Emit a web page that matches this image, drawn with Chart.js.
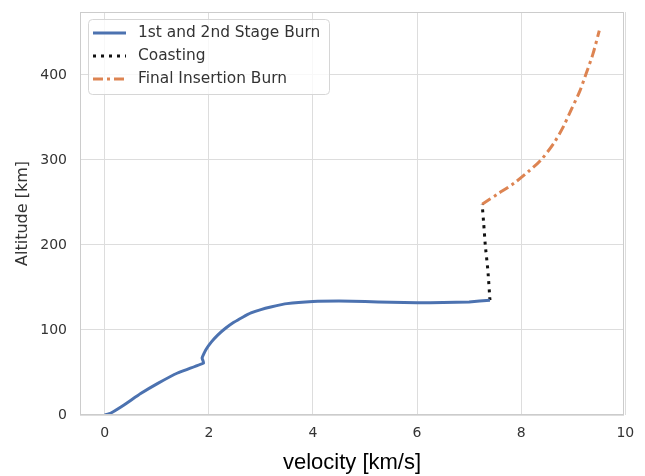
<!DOCTYPE html>
<html>
<head>
<meta charset="utf-8">
<script src="https://cdn.jsdelivr.net/npm/chart.js@4.4.1/dist/chart.umd.min.js"></script>
<style>
  html, body { margin: 0; padding: 0; background: #fff; }
  #wrap { width: 645px; height: 476px; position: relative; }
</style>
</head>
<body>
<div id="wrap"><canvas id="chart-div" width="645" height="476"></canvas></div>
<script>
// series values
var burnVel = [0, 0.12, 0.37, 0.69, 1.02, 1.40, 1.90, 1.87, 1.94, 2.05, 2.17, 2.32, 2.48, 2.65, 2.81, 3.0, 3.19, 3.5, 4.0, 4.5, 5.0, 5.5, 6.0, 6.5, 7.0, 7.4];
var burnAlt = [0, 2.4, 11.8, 25.2, 37.2, 49.4, 61.2, 67, 76.5, 86, 94, 102, 109, 115, 120, 124, 127, 131, 133.5, 134, 133.5, 132.5, 132, 132.2, 133, 135];

var coastVel = [7.40, 7.36, 7.31, 7.28, 7.25];
var coastAlt = [135, 170, 200, 225, 248];

var finalVel = [7.25, 7.55, 7.87, 8.15, 8.38, 8.63, 8.80, 8.96, 9.12, 9.25, 9.38, 9.50];
var finalAlt = [248, 260, 273, 287, 300, 320, 338, 359, 380, 402, 425, 452];

var xTicks = [0, 2, 4, 6, 8, 10];
var yTicks = [0, 100, 200, 300, 400];

var legendLabels = ['1st and 2nd Stage Burn', 'Coasting', 'Final Insertion Burn'];

function pares(xs, ys) {
    var out = [];
    for (var i = 0; i < xs.length; i++) {
        out.push({x: xs[i], y: ys[i]});
    }
    return out;
}

// border round the plot + legend inside the axes
var molduraPlugin = {
    id: 'moldura',
    afterDraw: function (chart) {
        var ctx = chart.ctx, a = chart.chartArea;
        ctx.save();
        ctx.strokeStyle = '#cccccc';
        ctx.lineWidth = 1;
        ctx.strokeRect(a.left + 0.5, a.top + 0.5, a.right - a.left - 1, a.bottom - a.top - 1);

        // legend box
        var bx = 88.5, by = 19.5, bw = 241, bh = 75, r = 4;
        ctx.beginPath();
        ctx.moveTo(bx + r, by);
        ctx.lineTo(bx + bw - r, by);
        ctx.quadraticCurveTo(bx + bw, by, bx + bw, by + r);
        ctx.lineTo(bx + bw, by + bh - r);
        ctx.quadraticCurveTo(bx + bw, by + bh, bx + bw - r, by + bh);
        ctx.lineTo(bx + r, by + bh);
        ctx.quadraticCurveTo(bx, by + bh, bx, by + bh - r);
        ctx.lineTo(bx, by + r);
        ctx.quadraticCurveTo(bx, by, bx + r, by);
        ctx.closePath();
        ctx.fillStyle = 'rgba(255,255,255,0.8)';
        ctx.fill();
        ctx.strokeStyle = '#d6d6d6';
        ctx.stroke();

        var ds = chart.data.datasets;
        for (var i = 0; i < ds.length; i++) {
            var ly = 33 + i * 23;
            ctx.beginPath();
            ctx.setLineDash(ds[i].borderDash || []);
            ctx.strokeStyle = ds[i].borderColor;
            ctx.lineWidth = ds[i].borderWidth;
            ctx.moveTo(93, ly);
            ctx.lineTo(126, ly);
            ctx.stroke();
            ctx.setLineDash([]);
            ctx.fillStyle = '#333333';
            ctx.font = '15.4px "DejaVu Sans"';
            ctx.textBaseline = 'middle';
            ctx.textAlign = 'left';
            ctx.fillText(legendLabels[i], 138, ly);
        }
        ctx.restore();
    }
};

var ctx = document.getElementById('chart-div').getContext('2d');

var config = {
    type: 'line',
    data: {
        datasets: [{
            label: legendLabels[0],
            data: pares(burnVel, burnAlt),
            borderColor: '#4c72b0',
            borderWidth: 3,
            pointRadius: 0,
            tension: 0.1,
            fill: false
        }, {
            label: legendLabels[1],
            data: pares(coastVel, coastAlt),
            borderColor: '#111111',
            borderWidth: 3,
            borderDash: [3, 5],
            pointRadius: 0,
            tension: 0.2,
            fill: false
        }, {
            label: legendLabels[2],
            data: pares(finalVel, finalAlt),
            borderColor: '#dd8452',
            borderWidth: 3,
            borderDash: [10, 4, 3, 4],
            pointRadius: 0,
            tension: 0.3,
            fill: false
        }]
    },
    options: {
        responsive: false,
        animation: false,
        devicePixelRatio: 1,
        layout: { padding: { top: 12, right: 21, left: 0, bottom: 0 } },
        plugins: {
            legend: { display: false },
            tooltip: { enabled: false }
        },
        scales: {
            x: {
                type: 'linear',
                min: -0.475,
                max: 9.975,
                afterBuildTicks: function (s) { s.ticks = xTicks.map(function (v) { return {value: v}; }); },
                afterFit: function (s) { s.height = 61; s.paddingLeft = 0; s.paddingRight = 0; },
                grid: { color: '#dddddd', drawTicks: false },
                border: { display: false },
                ticks: { color: '#333333', font: { family: 'DejaVu Sans', size: 14 }, padding: 10, maxRotation: 0 },
                title: { display: true, text: 'velocity [km/s]', color: '#000000', font: { family: 'Liberation Sans', size: 22 }, padding: { top: 0, bottom: 0 } }
            },
            y: {
                type: 'linear',
                min: 0,
                max: 474,
                afterBuildTicks: function (s) { s.ticks = yTicks.map(function (v) { return {value: v}; }); },
                afterFit: function (s) { s.width = 80; s.paddingTop = 0; s.paddingBottom = 0; },
                grid: { color: '#dddddd', drawTicks: false },
                border: { display: false },
                ticks: { color: '#333333', font: { family: 'DejaVu Sans', size: 14 }, padding: 13 },
                title: { display: true, text: 'Altitude [km]', color: '#333333', font: { family: 'DejaVu Sans', size: 16 }, padding: { top: 13, bottom: 0 } }
            }
        }
    },
    plugins: [molduraPlugin]
};

var grafico = new Chart(ctx, config);
</script>
</body>
</html>
